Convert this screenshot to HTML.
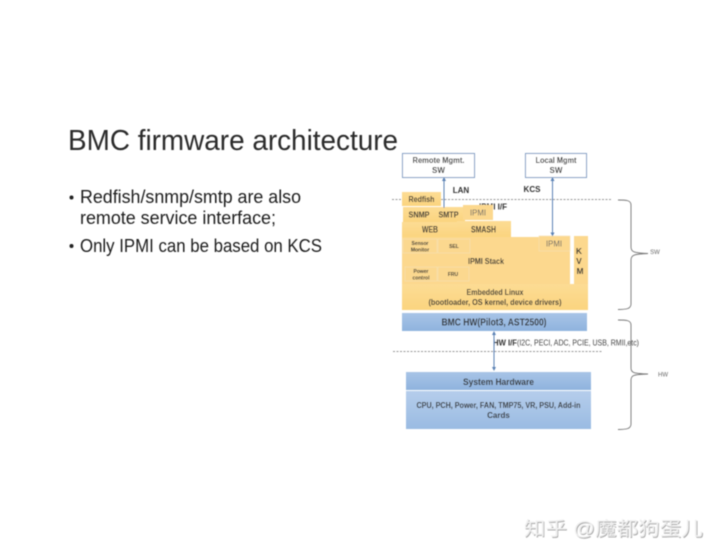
<!DOCTYPE html>
<html>
<head>
<meta charset="utf-8">
<style>
html,body{margin:0;padding:0;background:#fff;width:720px;height:556px;overflow:hidden}
svg{display:block}
text{font-family:"Liberation Sans","Noto Sans CJK SC",sans-serif}
.b{font-weight:bold;fill:#333;text-anchor:middle}
.n{fill:#666;text-anchor:middle}
</style>
</head>
<body>
<svg width="720" height="556" viewBox="0 0 720 556" xmlns="http://www.w3.org/2000/svg">
<defs>
<linearGradient id="o" x1="0" y1="0" x2="0" y2="1"><stop offset="0" stop-color="#fddc94"/><stop offset="1" stop-color="#fbd47f"/></linearGradient>
<linearGradient id="bl" x1="0" y1="0" x2="0" y2="1"><stop offset="0" stop-color="#a8c4e6"/><stop offset="1" stop-color="#8fb3de"/></linearGradient>
<linearGradient id="bl2" x1="0" y1="0" x2="0" y2="1"><stop offset="0" stop-color="#b5cdeb"/><stop offset="1" stop-color="#9abbe2"/></linearGradient>
<filter id="s" x="-5%" y="-5%" width="110%" height="110%"><feGaussianBlur stdDeviation="0.45"/></filter>
</defs>
<rect width="720" height="556" fill="#fff"/>

<g filter="url(#s)">
<text x="68" y="150" font-size="29" fill="#2a2a2a" textLength="330" lengthAdjust="spacingAndGlyphs">BMC firmware architecture</text>
<g font-size="18.5" fill="#1f1f1f">
<circle cx="71.5" cy="197.5" r="2" fill="#222"/>
<text x="80" y="203" textLength="221" lengthAdjust="spacingAndGlyphs">Redfish/snmp/smtp are also</text>
<text x="80" y="224" textLength="196" lengthAdjust="spacingAndGlyphs">remote service interface;</text>
<circle cx="71.5" cy="246" r="2" fill="#222"/>
<text x="80" y="252" textLength="242" lengthAdjust="spacingAndGlyphs">Only IPMI can be based on KCS</text>
</g>

<!-- top boxes -->
<rect x="402.5" y="153.5" width="72" height="24" fill="#fff" stroke="#7f9cc4" stroke-width="1"/>
<text class="b" x="438.5" y="163" font-size="8" textLength="52" lengthAdjust="spacingAndGlyphs">Remote Mgmt.</text>
<text class="b" x="438.5" y="173" font-size="8">SW</text>
<rect x="525.5" y="153.5" width="61" height="24" fill="#fff" stroke="#7f9cc4" stroke-width="1"/>
<text class="b" x="556" y="163" font-size="8" textLength="41" lengthAdjust="spacingAndGlyphs">Local Mgmt</text>
<text class="b" x="556" y="173" font-size="8">SW</text>

<text class="b" x="461" y="193" font-size="8">LAN</text>
<text class="b" x="532" y="192" font-size="8">KCS</text>
<text class="b" x="493" y="209.500" font-size="8.500" textLength="28" lengthAdjust="spacingAndGlyphs">IPMI I/F</text>

<line x1="392" y1="199.500" x2="611" y2="199.500" stroke="#777" stroke-width="0.8" stroke-dasharray="2 1.500"/>

<!-- stack blocks -->
<rect x="402" y="192" width="39" height="14" fill="url(#o)"/>
<text class="b" x="421.500" y="202" font-size="8.500" textLength="26" lengthAdjust="spacingAndGlyphs">Redfish</text>
<rect x="403" y="207" width="30" height="15" fill="url(#o)"/>
<text class="b" x="419" y="217.500" font-size="8.500" textLength="21" lengthAdjust="spacingAndGlyphs">SNMP</text>
<rect x="433" y="207" width="32" height="15" fill="url(#o)"/>
<text class="b" x="448.500" y="217.500" font-size="8.500" textLength="20" lengthAdjust="spacingAndGlyphs">SMTP</text>
<rect x="463" y="205" width="30" height="15" fill="#fcd88e"/>
<text class="n" x="478" y="215.500" font-size="8.500" textLength="16" lengthAdjust="spacingAndGlyphs">IPMI</text>
<rect x="402" y="222" width="55" height="15" fill="url(#o)"/>
<text class="b" x="430" y="232.500" font-size="9" textLength="16" lengthAdjust="spacingAndGlyphs">WEB</text>
<rect x="457" y="221" width="54" height="16" fill="url(#o)"/>
<text class="b" x="483.500" y="232.500" font-size="9" textLength="25" lengthAdjust="spacingAndGlyphs">SMASH</text>

<rect x="402" y="237" width="168" height="47" fill="#fcd88e"/>
<rect x="403" y="239" width="34" height="14" fill="#fbd88f" stroke="#f6e2b4" stroke-width="0.6"/>
<text class="b" x="420" y="245" font-size="5">Sensor</text>
<text class="b" x="420" y="251.500" font-size="5">Monitor</text>
<rect x="438" y="239" width="32" height="14" fill="#fbd88f" stroke="#f6e2b4" stroke-width="0.6"/>
<text class="b" x="454" y="248" font-size="5">SEL</text>
<rect x="405" y="267" width="32" height="14" fill="#fbd88f" stroke="#f6e2b4" stroke-width="0.6"/>
<text class="b" x="421" y="273" font-size="5">Power</text>
<text class="b" x="421" y="279.500" font-size="5">control</text>
<rect x="438" y="267" width="31" height="14" fill="#fbd88f" stroke="#f6e2b4" stroke-width="0.6"/>
<text class="b" x="453" y="276" font-size="5">FRU</text>
<text class="b" x="486" y="264" font-size="8.500" textLength="36" lengthAdjust="spacingAndGlyphs">IPMI Stack</text>
<rect x="539" y="236" width="31" height="15" fill="#fcd88e" stroke="#f6e2b4" stroke-width="0.6"/>
<text class="n" x="554" y="246.500" font-size="8.500" textLength="16" lengthAdjust="spacingAndGlyphs">IPMI</text>

<rect x="574" y="236" width="14" height="48" fill="#fcd88e"/>
<text class="b" x="579" y="254" font-size="8.500">K</text>
<text class="b" x="579" y="264" font-size="8.500">V</text>
<text class="b" x="580" y="274" font-size="8.500">M</text>

<rect x="402" y="284" width="186" height="26" fill="url(#o)"/>
<text class="b" x="495" y="295" font-size="8.500" textLength="57" lengthAdjust="spacingAndGlyphs">Embedded Linux</text>
<text class="b" x="495" y="305" font-size="8.500" textLength="133" lengthAdjust="spacingAndGlyphs">(bootloader, OS kernel, device drivers)</text>

<rect x="402" y="313" width="185" height="18" fill="url(#bl)"/>
<text class="b" x="494" y="325.500" font-size="10" textLength="105" lengthAdjust="spacingAndGlyphs">BMC HW(Pilot3, AST2500)</text>

<text x="493" y="345.500" font-size="8" font-weight="bold" fill="#333" textLength="24" lengthAdjust="spacingAndGlyphs">HW I/F</text>
<text x="517" y="345.500" font-size="8" fill="#444" textLength="122" lengthAdjust="spacingAndGlyphs">(I2C, PECI, ADC, PCIE, USB, RMII,etc)</text>
<line x1="393" y1="351.500" x2="603" y2="351.500" stroke="#777" stroke-width="0.8" stroke-dasharray="2 1.500"/>

<rect x="406" y="372" width="185" height="18" fill="url(#bl)"/>
<text class="b" x="498.500" y="385" font-size="9.500" textLength="71" lengthAdjust="spacingAndGlyphs">System Hardware</text>
<rect x="406" y="391" width="185" height="38" fill="url(#bl2)"/>
<text class="b" x="498.500" y="408" font-size="8" textLength="164" lengthAdjust="spacingAndGlyphs">CPU, PCH, Power, FAN, TMP75, VR, PSU, Add-in</text>
<text class="b" x="498.500" y="418" font-size="8">Cards</text>

<!-- arrows -->
<g stroke="#5b82b5" stroke-width="1" fill="#5b82b5">
<line x1="444" y1="179" x2="444" y2="208"/>
<path d="M444 177l-2 4h4z" stroke="none"/>
<line x1="552.500" y1="179" x2="552.500" y2="234"/>
<path d="M552.500 177l-2 4h4z" stroke="none"/>
<path d="M552.500 236.500l-2 -4h4z" stroke="none"/>
<line x1="494" y1="333" x2="494" y2="369"/>
<path d="M494 331l-2 4h4z" stroke="none"/>
<path d="M494 371l-2 -4h4z" stroke="none"/>
</g>

<!-- braces -->
<g fill="none" stroke="#777" stroke-width="0.9">
<path d="M618 200C626 200 631 200 631 205V247C631 252 634 253 648 253.500C634 254 631 255 631 260V304C631 309 626 309.500 618 309.500"/>
<path d="M618 320C626 320 631 320 631 325V368C631 373 634 373.500 648 374C634 374.500 631 375 631 380V424C631 429 626 429.500 618 429.500"/>
</g>
<text class="n" x="655" y="254" font-size="6">SW</text>
<text class="n" x="663" y="376.500" font-size="6">HW</text>

<!-- watermark -->
<g font-size="19">
<text x="524" y="535" fill="#a8a8a8" textLength="179" lengthAdjust="spacingAndGlyphs" transform="translate(0.800,0.800)">知乎 @魔都狗蛋儿</text>
<text x="524" y="535" fill="#f0f0f0" textLength="179" lengthAdjust="spacingAndGlyphs">知乎 @魔都狗蛋儿</text>
</g>
</g>
</svg>
</body>
</html>
